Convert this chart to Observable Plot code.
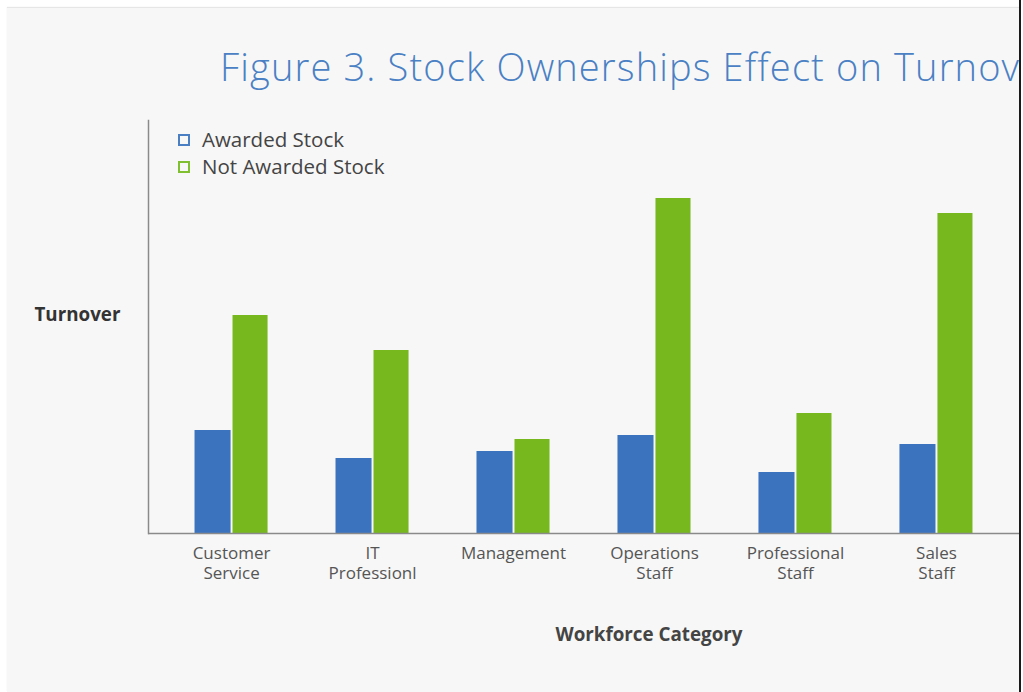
<!DOCTYPE html>
<html>
<head>
<meta charset="utf-8">
<script src="https://cdn.jsdelivr.net/npm/d3@7"></script>
<script src="https://cdn.jsdelivr.net/npm/@observablehq/plot@0.6"></script>
<style>
  html, body { margin: 0; padding: 0; background: #ffffff; width: 1023px; height: 692px; overflow: hidden; }
  #panel { position: absolute; left: 7px; top: 8px; width: 1012px; height: 684px; background: #f7f7f7; overflow: hidden; font-family: "Open Sans", sans-serif; box-shadow: 0 -1px 1px #e6e6e6; }
  #edge { position: absolute; left: 1019px; top: 0; width: 2px; height: 692px; background: #1a1a1a; }
  #title { position: absolute; left: 213px; top: 39px; font-size: 38px; letter-spacing: 1.15px; line-height: 1; font-weight: 300; color: #4a80c4; white-space: nowrap; }
  .leg { position: absolute; left: 195px; font-size: 20.5px; line-height: 1; color: #444; white-space: nowrap; }
  .sw { position: absolute; left: 171px; width: 12px; height: 12px; box-sizing: border-box; border: 2px solid; }
  #chart { position: absolute; left: 0; top: 100px; }
</style>
</head>
<body>
<div id="panel">
  <div id="title"></div>
  <div id="chart"></div>
</div>
<div id="edge"></div>
<script>
const titleText = "Figure 3. Stock Ownerships Effect on Turnover";
const categories = ["Customer\nService", "IT\nProfessionl", "Management", "Operations\nStaff", "Professional\nStaff", "Sales\nStaff"];
const series = ["Awarded Stock", "Not Awarded Stock"];
const awarded = [10.3, 7.5, 8.2, 9.8, 6.1, 8.9];
const notAwarded = [21.8, 18.3, 9.4, 33.5, 12.0, 32.0];
const colors = ["#3b73bf", "#77b81f"];
const legendColors = ["#4a7fc4", "#80bf30"];
const yLabel = "Turnover";
const xLabel = "Workforce Category";

document.getElementById("title").textContent = titleText;

const panel = document.getElementById("panel");
series.forEach((s, i) => {
  const sw = document.createElement("div");
  sw.className = "sw";
  sw.style.top = (126 + i * 27) + "px";
  sw.style.borderColor = legendColors[i];
  panel.appendChild(sw);
  const t = document.createElement("div");
  t.className = "leg";
  t.style.top = (121 + i * 27) + "px";
  t.textContent = s;
  panel.appendChild(t);
});

const rowsA = categories.map((c, i) => ({category: c, series: series[0], value: awarded[i]}));
const rowsN = categories.map((c, i) => ({category: c, series: series[1], value: notAwarded[i]}));

const chart = Plot.plot({
  width: 1012,
  height: 560,
  marginLeft: 141,
  marginRight: 0,
  marginTop: 12,
  marginBottom: 135,
  style: {background: "transparent", fontFamily: "Open Sans, sans-serif", color: "#555"},
  x: {domain: categories, paddingInner: 0.482, paddingOuter: 0.33, round: false, label: null},
  y: {domain: [0, 41.3], axis: null},
  color: {domain: series, range: colors},
  marks: [
    Plot.barY(rowsA, {x: "category", y: "value", fill: "series", insetRight: 37}),
    Plot.barY(rowsN, {x: "category", y: "value", fill: "series", insetLeft: 38}),
    Plot.axisX({tickSize: 0, tickPadding: 11, fontSize: 17, lineHeight: 1.2, fill: "#555", label: null}),
    Plot.ruleY([0], {stroke: "#8a8a8a", strokeWidth: 1.5}),
    Plot.frame({anchor: "left", stroke: "#8a8a8a", strokeWidth: 1.5}),
    Plot.text([yLabel], {frameAnchor: "left", dx: -28, dy: -12, textAnchor: "end", fontWeight: "bold", fontSize: 18.8, fill: "#333"}),
    Plot.text([xLabel], {frameAnchor: "bottom", dx: 65, dy: 107, fontWeight: "bold", fontSize: 18.8, fill: "#444"})
  ]
});
document.getElementById("chart").appendChild(chart);
</script>
</body>
</html>
